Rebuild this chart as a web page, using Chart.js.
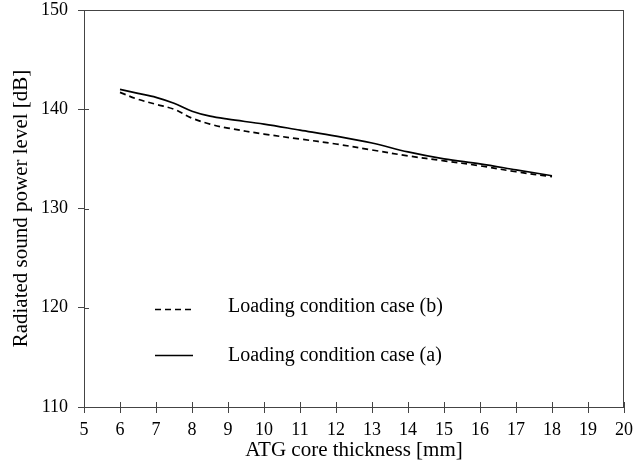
<!DOCTYPE html>
<html>
<head>
<meta charset="utf-8">
<script src="https://cdn.jsdelivr.net/npm/chart.js@4/dist/chart.umd.min.js"></script>
<style>
  html, body { margin: 0; padding: 0; background: #fff; }
  #wrap { width: 633px; height: 467px; }
</style>
</head>
<body>
<div id="wrap"><canvas id="chart"></canvas></div>
<script>
// values
const thickness = [6, 6.5, 7, 7.5, 8, 8.5, 9, 10, 11, 12, 13, 14, 15, 16, 17, 18];
const caseA = [142.0, 141.6, 141.2, 140.6, 139.8, 139.3, 139.0, 138.5, 137.9, 137.3, 136.6, 135.7, 135.0, 134.5, 133.9, 133.3];
const caseB = [141.7, 141.0, 140.5, 140.0, 139.1, 138.5, 138.1, 137.5, 137.0, 136.5, 135.9, 135.3, 134.8, 134.3, 133.7, 133.2];
const xTicks = [5, 6, 7, 8, 9, 10, 11, 12, 13, 14, 15, 16, 17, 18, 19, 20];
const yTicks = [110, 120, 130, 140, 150];

const FONT = "'Liberation Serif', 'DejaVu Serif', serif";
const AXIS_COLOR = '#444';

const toPoints = (xs, ys) => xs.map((x, i) => ({ x: x, y: ys[i] }));

// frame, inner tick marks and the in-plot legend
const extras = {
  id: 'extras',
  afterDraw(chart) {
    const { ctx, chartArea: a, scales } = chart;
    ctx.save();
    ctx.strokeStyle = AXIS_COLOR;
    ctx.lineWidth = 1;
    ctx.strokeRect(a.left + 0.5, a.top + 0.5, a.right - a.left - 1, a.bottom - a.top);
    ctx.beginPath();
    xTicks.forEach(v => {
      const px = Math.round(scales.x.getPixelForValue(v)) + 0.5;
      ctx.moveTo(px, a.bottom);
      ctx.lineTo(px, a.bottom - 5);
    });
    yTicks.forEach(v => {
      const py = Math.round(scales.y.getPixelForValue(v)) + 0.5;
      ctx.moveTo(a.left, py);
      ctx.lineTo(a.left + 5, py);
    });
    ctx.stroke();

    // legend: (b) first, then (a)
    const order = [1, 0];
    const lineY = [309, 355];
    const textY = [307, 356];
    ctx.font = '20px ' + FONT;
    ctx.textBaseline = 'middle';
    ctx.fillStyle = '#000';
    order.forEach((di, r) => {
      const ds = chart.data.datasets[di];
      const y = lineY[r] + 0.5;
      ctx.strokeStyle = '#000';
      ctx.lineWidth = 1.6;
      ctx.setLineDash(ds.borderDash || []);
      ctx.beginPath();
      ctx.moveTo(155, y);
      ctx.lineTo(193, y);
      ctx.stroke();
      ctx.setLineDash([]);
      ctx.fillText(ds.label, 228, textY[r]);
    });
    ctx.restore();
  }
};

new Chart(document.getElementById('chart'), {
  type: 'line',
  data: {
    datasets: [
      {
        label: 'Loading condition case (a)',
        data: toPoints(thickness, caseA),
        borderColor: '#000',
        borderWidth: 1.7,
        pointRadius: 0,
        tension: 0.35,
        fill: false
      },
      {
        label: 'Loading condition case (b)',
        data: toPoints(thickness, caseB),
        borderColor: '#000',
        borderWidth: 1.7,
        borderDash: [6, 4],
        pointRadius: 0,
        tension: 0.35,
        fill: false
      }
    ]
  },
  options: {
    responsive: true,
    maintainAspectRatio: false,
    animation: false,
    layout: { padding: { top: 10, right: 9, left: 5, bottom: 0 } },
    plugins: {
      legend: { display: false },
      tooltip: { enabled: false }
    },
    scales: {
      x: {
        type: 'linear',
        min: 5,
        max: 20,
        afterBuildTicks: s => { s.ticks = xTicks.map(v => ({ value: v })); },
        afterFit: s => { s.height = 60; s.paddingLeft = 0; s.paddingRight = 0; },
        grid: { display: true, drawOnChartArea: false, tickLength: 6, color: AXIS_COLOR },
        border: { color: AXIS_COLOR, width: 1 },
        ticks: { color: '#000', font: { family: FONT, size: 18 }, padding: 6, maxRotation: 0, autoSkip: false },
        title: { display: true, text: 'ATG core thickness [mm]', color: '#000', font: { family: FONT, size: 21 }, padding: { top: 0 } }
      },
      y: {
        min: 110,
        max: 150,
        afterBuildTicks: s => { s.ticks = yTicks.map(v => ({ value: v })); },
        afterFit: s => { s.width = 79; s.paddingTop = 0; s.paddingBottom = 0; },
        grid: { display: true, drawOnChartArea: false, tickLength: 6, color: AXIS_COLOR },
        border: { color: AXIS_COLOR, width: 1 },
        ticks: { color: '#000', font: { family: FONT, size: 18 }, padding: 10 },
        title: { display: true, text: 'Radiated sound power level [dB]', color: '#000', font: { family: FONT, size: 21 }, padding: { bottom: 6 } }
      }
    }
  },
  plugins: [extras]
});
</script>
</body>
</html>
